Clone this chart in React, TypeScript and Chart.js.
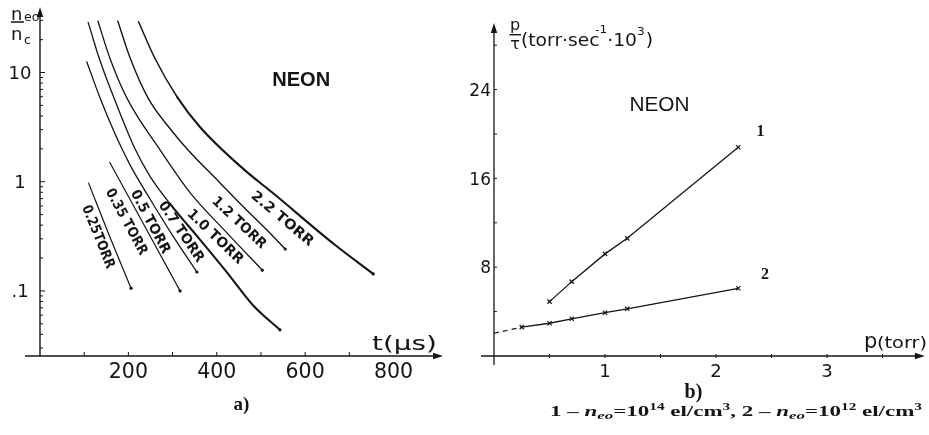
import React, { useEffect, useRef } from 'react';
import { Chart, registerables } from 'chart.js';

Chart.register(...registerables);

const INK = '#151515';
const SANS = '"DejaVu Sans", sans-serif';
const NARROW = '"Liberation Sans", Arial, sans-serif';
const SERIF = '"Liberation Serif", "DejaVu Serif", serif';

// ---------- a) n_eo / n_c against t (µs), neon, one curve per pressure ----------
const pressureNames = ['0.25TORR', '0.35 TORR', '0.5 TORR', '0.7 TORR', '1.0 TORR', '1.2 TORR', '2.2 TORR'];

const t025 = [110, 157, 206];
const n025 = [0.97, 0.32, 0.106];
const t035 = [158, 238, 317];
const n035 = [1.5, 0.385, 0.1];
const t05 = [106, 136, 168, 204, 249, 301, 355];
const n05 = [12.5, 5.84, 2.85, 1.42, 0.695, 0.318, 0.149];
const t07 = [109, 134, 170, 215, 249, 294, 362, 423, 482, 543];
const n07 = [28.8, 13.5, 5.5, 2.0, 1.12, 0.63, 0.295, 0.148, 0.074, 0.044];
const t10 = [131, 158, 197, 272, 340, 423, 503];
const n10 = [29.6, 13.6, 5.8, 1.95, 0.79, 0.34, 0.155];
const t12 = [176, 204, 245, 299, 335, 408, 460, 514, 555];
const n12 = [29.6, 13.6, 5.8, 2.9, 1.95, 0.97, 0.59, 0.36, 0.242];
const t22 = [223, 260, 310, 362, 460, 525, 668, 754];
const n22 = [29.2, 13.5, 6.0, 3.17, 1.31, 0.8, 0.263, 0.143];

// where each pressure name is written beside its curve (t, n_eo/n_c)
const nameT = [131, 195, 249, 319, 396, 450, 548];
const nameN = [0.312, 0.428, 0.428, 0.346, 0.312, 0.419, 0.455];

const timeTicks = [200, 400, 600, 800];
const timeMarks = [100, 200, 300, 400, 500, 600, 700];
const densTicks = [0.1, 1, 10];
const densTickLabels = ['.1', '1', '10'];

// ---------- b) p / tau against p (torr) ----------
const p1 = [0.5, 0.7, 1.0, 1.2, 2.2];
const rate1 = [4.9, 6.7, 9.2, 10.6, 18.8];
const p2 = [0.25, 0.5, 0.7, 1.0, 1.2, 2.2];
const rate2 = [2.6, 2.95, 3.35, 3.9, 4.25, 6.1];
const p2Extrap = [0, 0.25];
const rate2Extrap = [2.05, 2.6];
const curveNames = ['1', '2'];
const curveNameP = [2.4, 2.44];
const curveNameRate = [20.2, 7.3];

const pTicks = [1, 2, 3];
const pMarks = [0.5, 1, 1.5, 2, 2.5, 3, 3.5];
const rateTicks = [8, 16, 24];
const rateMarks = [4, 8, 12, 16, 20, 24, 28];

type Pt = { x: number; y: number };
const zip = (xs: number[], ys: number[]): Pt[] => xs.map((x, i) => ({ x, y: ys[i] }));

// drawing helpers
const seg = (ctx: CanvasRenderingContext2D, x1: number, y1: number, x2: number, y2: number) => {
  ctx.beginPath();
  ctx.moveTo(x1, y1);
  ctx.lineTo(x2, y2);
  ctx.stroke();
};

const arrowHead = (ctx: CanvasRenderingContext2D, x: number, y: number, ang: number) => {
  ctx.save();
  ctx.translate(x, y);
  ctx.rotate(ang);
  ctx.beginPath();
  ctx.moveTo(0, 0);
  ctx.lineTo(-10, -3.2);
  ctx.lineTo(-10, 3.2);
  ctx.closePath();
  ctx.fill();
  ctx.restore();
};

const fitText = (
  ctx: CanvasRenderingContext2D,
  s: string,
  x: number,
  y: number,
  width: number,
  align: 'left' | 'center' | 'right' = 'left',
) => {
  const w0 = ctx.measureText(s).width || 1;
  const left = align === 'left' ? x : align === 'center' ? x - width / 2 : x - width;
  ctx.save();
  ctx.textAlign = 'left';
  ctx.translate(left, y);
  ctx.scale(width / w0, 1);
  ctx.fillText(s, 0, 0);
  ctx.restore();
};

// a run of text pieces in several fonts, squeezed to a given width
type Piece = { s: string; font: string; dy: number; dx?: number };
const drawPieces = (ctx: CanvasRenderingContext2D, pieces: Piece[], left: number, y: number, width: number) => {
  let total = 0;
  for (const p of pieces) {
    ctx.font = p.font;
    total += ctx.measureText(p.s).width + (p.dx || 0);
  }
  ctx.save();
  ctx.textAlign = 'left';
  ctx.textBaseline = 'alphabetic';
  ctx.translate(left, y);
  ctx.scale(width / total, 1);
  let x = 0;
  for (const p of pieces) {
    ctx.font = p.font;
    x += p.dx || 0;
    ctx.fillText(p.s, x, p.dy);
    x += ctx.measureText(p.s).width;
  }
  ctx.restore();
};

// ---------- decorations of panel a ----------
const nameAngles = [68, 61.5, 62, 56, 44, 43, 40];
const nameWidths = [67, 73, 70, 70, 72, 69, 77];

const decorA = {
  id: 'decorA',
  afterDraw(chart: any) {
    const ctx: CanvasRenderingContext2D = chart.ctx;
    const ca = chart.chartArea;
    const xs = chart.scales.x;
    const ys = chart.scales.y;
    const ox = xs.getPixelForValue(0);
    const oy = ca.bottom;
    ctx.save();
    ctx.strokeStyle = INK;
    ctx.fillStyle = INK;

    // axes with arrows
    ctx.lineWidth = 1.4;
    seg(ctx, ox - 15, oy, ca.right - 8, oy);
    arrowHead(ctx, ca.right, oy, 0);
    seg(ctx, ox, oy, ox, ca.top + 8);
    arrowHead(ctx, ox, ca.top, -Math.PI / 2);

    // tick marks
    ctx.lineWidth = 1;
    for (const v of timeMarks) {
      const x = xs.getPixelForValue(v);
      seg(ctx, x, oy, x, oy - 4);
    }
    for (let d = -2; d <= 1; d++) {
      for (let m = 1; m <= 9; m++) {
        const v = m * Math.pow(10, d);
        if (v < ys.min || v > ys.max) continue;
        const y = ys.getPixelForValue(v);
        seg(ctx, ox, y, ox + (m === 1 ? 5 : 3), y);
      }
    }

    // tick labels
    ctx.textBaseline = 'alphabetic';
    ctx.textAlign = 'center';
    ctx.font = `20.5px ${SANS}`;
    for (const v of timeTicks) ctx.fillText(String(v), xs.getPixelForValue(v), oy + 22);
    ctx.font = `18px ${SANS}`;
    densTicks.forEach((v, i) => {
      ctx.fillText(densTickLabels[i], ox - 20, ys.getPixelForValue(v) + 6.5);
    });

    // axis titles
    ctx.textAlign = 'left';
    ctx.font = `20px ${SANS}`;
    fitText(ctx, 't(μs)', 372, oy - 6, 65);

    ctx.font = `18px ${SANS}`;
    ctx.fillText('n', ox - 29, 19.5);
    ctx.font = `12.5px ${SANS}`;
    ctx.fillText('eo', ox - 16, 20.7);
    ctx.lineWidth = 1.5;
    seg(ctx, ox - 29, 22, ox - 16, 22);
    ctx.font = `18px ${SANS}`;
    ctx.fillText('n', ox - 29, 40);
    ctx.font = `12.5px ${SANS}`;
    ctx.fillText('c', ox - 16, 43.5);

    // gas name
    ctx.font = `bold 21px ${NARROW}`;
    ctx.textBaseline = 'middle';
    fitText(ctx, 'NEON', xs.getPixelForValue(591), ys.getPixelForValue(8.54), 58, 'center');

    // pressure names along the curves
    ctx.font = `bold 14px ${SANS}`;
    pressureNames.forEach((s, i) => {
      const x = xs.getPixelForValue(nameT[i]);
      const y = ys.getPixelForValue(nameN[i]);
      ctx.save();
      ctx.translate(x, y);
      ctx.rotate((nameAngles[i] * Math.PI) / 180);
      ctx.textBaseline = 'middle';
      fitText(ctx, s, 0, 0, nameWidths[i], 'center');
      ctx.restore();
    });

    // panel letter
    ctx.textBaseline = 'alphabetic';
    ctx.textAlign = 'center';
    ctx.font = `bold 19px ${SERIF}`;
    ctx.fillText('a)', 241.5, 410);
    ctx.restore();
  },
};

// ---------- decorations of panel b ----------
const decorB = {
  id: 'decorB',
  afterDraw(chart: any) {
    const ctx: CanvasRenderingContext2D = chart.ctx;
    const ca = chart.chartArea;
    const xs = chart.scales.x;
    const ys = chart.scales.y;
    const ox = xs.getPixelForValue(0);
    const oy = ys.getPixelForValue(0);
    const dx = -465; // this canvas starts 465px into the figure
    ctx.save();
    ctx.strokeStyle = INK;
    ctx.fillStyle = INK;

    ctx.lineWidth = 1.3;
    seg(ctx, ox - 13, oy, ca.right - 8, oy);
    arrowHead(ctx, ca.right, oy, 0);
    seg(ctx, ox, oy + 9, ox, ca.top + 8);
    arrowHead(ctx, ox, ca.top, -Math.PI / 2);

    ctx.lineWidth = 1;
    for (const v of pMarks) {
      const x = xs.getPixelForValue(v);
      seg(ctx, x, oy - 2, x, oy + 2);
    }
    for (const v of rateMarks) {
      const y = ys.getPixelForValue(v);
      seg(ctx, ox, y, ox + 3, y);
    }

    ctx.textBaseline = 'alphabetic';
    ctx.font = `18px ${SANS}`;
    ctx.textAlign = 'center';
    for (const v of pTicks) ctx.fillText(String(v), xs.getPixelForValue(v), oy + 20.5);
    ctx.font = `17px ${SANS}`;
    ctx.textAlign = 'right';
    for (const v of rateTicks) ctx.fillText(String(v), ox - 3, ys.getPixelForValue(v) + 6.2);

    // x title
    ctx.textAlign = 'left';
    ctx.font = `21px ${SANS}`;
    ctx.fillText('p', 864 + dx, oy - 8);
    ctx.font = `16px ${SANS}`;
    fitText(ctx, '(torr)', 877 + dx, oy - 8, 50);

    // y title: p over tau, then the unit
    ctx.font = `16px ${SANS}`;
    ctx.textAlign = 'center';
    ctx.fillText('p', ox + 21, 29.5);
    ctx.lineWidth = 1.4;
    seg(ctx, ox + 15.5, 34.7, ox + 27, 34.7);
    ctx.fillText('τ', ox + 21, 49);
    const U = `17px ${SANS}`;
    const S = `11px ${SANS}`;
    drawPieces(
      ctx,
      [
        { s: '(torr·sec', font: U, dy: 0 },
        { s: '-1', font: S, dy: -13, dx: -4 },
        { s: '·10', font: U, dy: 0 },
        { s: '3', font: S, dy: -11 },
        { s: ')', font: U, dy: 0, dx: 1 },
      ],
      ox + 27,
      46,
      132,
    );

    ctx.font = `21px ${NARROW}`;
    ctx.textBaseline = 'middle';
    fitText(ctx, 'NEON', xs.getPixelForValue(1.49), ys.getPixelForValue(22.6), 60, 'center');

    ctx.font = `bold 16px ${SERIF}`;
    ctx.textAlign = 'center';
    curveNames.forEach((s, i) => {
      ctx.fillText(s, xs.getPixelForValue(curveNameP[i]), ys.getPixelForValue(curveNameRate[i]));
    });

    ctx.textBaseline = 'alphabetic';
    ctx.font = `bold 20px ${SERIF}`;
    ctx.fillText('b)', 693.5 + dx, 398);

    const R = `bold 15px ${SERIF}`;
    const I = `italic bold 15px ${SERIF}`;
    const Isub = `italic bold 11px ${SERIF}`;
    const Sup = `bold 10px ${SERIF}`;
    drawPieces(
      ctx,
      [
        { s: '1 – ', font: R, dy: 0 },
        { s: 'n', font: I, dy: 0 },
        { s: 'eo', font: Isub, dy: 2.5 },
        { s: '=10', font: R, dy: 0 },
        { s: '14', font: Sup, dy: -6 },
        { s: ' el/cm', font: R, dy: 0 },
        { s: '3', font: Sup, dy: -6 },
        { s: ', 2 – ', font: R, dy: 0 },
        { s: 'n', font: I, dy: 0 },
        { s: 'eo', font: Isub, dy: 2.5 },
        { s: '=10', font: R, dy: 0 },
        { s: '12', font: Sup, dy: -6 },
        { s: ' el/cm', font: R, dy: 0 },
        { s: '3', font: Sup, dy: -6 },
      ],
      550 + dx,
      416,
      372,
    );
    ctx.restore();
  },
};

// curve drawn thin, becoming heavier from segment `heavyFrom` onwards, with a dot at its end
const lineSet = (pts: Pt[], width: number, heavy = width, heavyFrom = 0) => ({
  data: pts,
  showLine: true,
  borderColor: INK,
  backgroundColor: INK,
  borderWidth: width,
  segment: {
    borderWidth: (c: any) => (c.p0DataIndex >= heavyFrom ? heavy : width),
  },
  pointRadius: (c: any) => (c.dataIndex === pts.length - 1 ? 1.6 : 0),
  pointBorderWidth: 0,
  pointHoverRadius: 0,
  cubicInterpolationMode: 'monotone' as const,
  borderCapStyle: 'round' as const,
  borderJoinStyle: 'round' as const,
});

const hiddenScale = {
  grid: { display: false, drawTicks: false },
  border: { display: false },
  ticks: { display: false },
  bounds: 'data' as const,
};

const makeConfigA = (): any => ({
  type: 'scatter',
  data: {
    datasets: [
      lineSet(zip(t025, n025), 1.2),
      lineSet(zip(t035, n035), 1.2),
      lineSet(zip(t05, n05), 1.3),
      lineSet(zip(t07, n07), 1.3, 2.1, 5),
      lineSet(zip(t10, n10), 1.3),
      lineSet(zip(t12, n12), 1.4),
      lineSet(zip(t22, n22), 1.5, 2.1, 2),
    ],
  },
  options: {
    animation: false,
    responsive: false,
    devicePixelRatio: 1,
    layout: { padding: { top: 7, right: 22, left: 0, bottom: 0 } },
    plugins: { legend: { display: false }, tooltip: { enabled: false } },
    events: [],
    scales: {
      x: {
        ...hiddenScale,
        type: 'linear',
        min: 0,
        max: 912,
        afterFit: (s: any) => {
          s.height = 79;
        },
      },
      y: {
        ...hiddenScale,
        type: 'logarithmic',
        min: 0.02535,
        max: 39.8,
        afterFit: (s: any) => {
          s.width = 40;
        },
      },
    },
  },
  plugins: [decorA],
});

const crossSet = (pts: Pt[]) => ({
  data: pts,
  showLine: true,
  borderColor: INK,
  borderWidth: 1.3,
  pointStyle: 'crossRot',
  pointRadius: 3,
  pointBorderWidth: 1.2,
  pointBorderColor: INK,
  pointHoverRadius: 0,
});

const makeConfigB = (): any => ({
  type: 'scatter',
  data: {
    datasets: [
      crossSet(zip(p1, rate1)),
      crossSet(zip(p2, rate2)),
      {
        data: zip(p2Extrap, rate2Extrap),
        showLine: true,
        borderColor: INK,
        borderWidth: 1.2,
        borderDash: [5, 4],
        pointRadius: 0,
        pointHoverRadius: 0,
      },
    ],
  },
  options: {
    animation: false,
    responsive: false,
    devicePixelRatio: 1,
    layout: { padding: { top: 23, right: 3, left: 0, bottom: 0 } },
    plugins: { legend: { display: false }, tooltip: { enabled: false } },
    events: [],
    scales: {
      x: {
        ...hiddenScale,
        type: 'linear',
        min: 0,
        max: 3.88,
        afterFit: (s: any) => {
          s.height = 79;
        },
      },
      y: {
        ...hiddenScale,
        type: 'linear',
        min: 0,
        max: 30,
        afterFit: (s: any) => {
          s.width = 29;
        },
      },
    },
  },
  plugins: [decorB],
});

export default function App() {
  const refA = useRef<HTMLCanvasElement>(null);
  const refB = useRef<HTMLCanvasElement>(null);

  useEffect(() => {
    const a = new Chart(refA.current as HTMLCanvasElement, makeConfigA());
    const b = new Chart(refB.current as HTMLCanvasElement, makeConfigB());
    return () => {
      a.destroy();
      b.destroy();
    };
  }, []);

  return (
    <div
      style={{
        position: 'absolute',
        left: 0,
        top: 0,
        width: 929,
        height: 435,
        background: '#fff',
        overflow: 'hidden',
      }}
    >
      <canvas
        ref={refA}
        width={465}
        height={435}
        style={{ position: 'absolute', left: 0, top: 0, width: 465, height: 435 }}
      />
      <canvas
        ref={refB}
        width={464}
        height={435}
        style={{ position: 'absolute', left: 465, top: 0, width: 464, height: 435 }}
      />
    </div>
  );
}
